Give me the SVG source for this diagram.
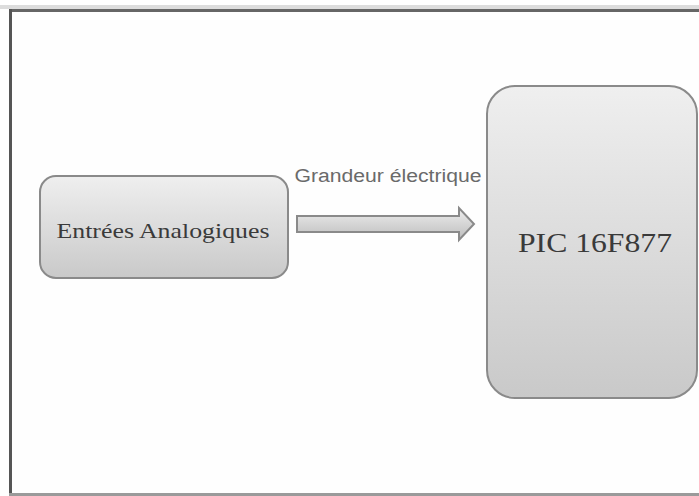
<svg xmlns="http://www.w3.org/2000/svg" width="699" height="496" viewBox="0 0 699 496">
<defs>
<linearGradient id="g" x1="0" y1="0" x2="0" y2="1">
<stop offset="0" stop-color="#efefef"/>
<stop offset="1" stop-color="#c9c9c9"/>
</linearGradient>
<linearGradient id="ga" x1="0" y1="0" x2="0" y2="1">
<stop offset="0" stop-color="#eeeeee"/>
<stop offset="1" stop-color="#bdbdbd"/>
</linearGradient>
</defs>
<style>
.box{fill:url(#g);stroke:#8a8a8a;stroke-width:2}
.lbl{font-family:"Liberation Serif",serif;fill:#3a3a3a}
</style>
<rect x="0" y="0" width="699" height="496" fill="#fefefe"/>
<rect x="0" y="5" width="699" height="4" fill="#dcdcdc"/>
<rect x="9" y="9" width="690" height="3" fill="#666"/>
<rect x="9" y="9" width="3" height="487" fill="#555"/>
<rect x="9" y="493" width="690" height="3" fill="#9a9a9a"/>
<g id="entrees">
<rect class="box" x="40" y="176" width="248" height="102" rx="16"/>
<text class="lbl" x="163" y="238" font-size="22" text-anchor="middle" textLength="213" lengthAdjust="spacingAndGlyphs">Entrées Analogiques</text>
</g>
<g id="pic">
<rect class="box" x="487" y="86" width="210" height="312" rx="28"/>
<text class="lbl" x="595" y="252" font-size="28" text-anchor="middle" textLength="154" lengthAdjust="spacingAndGlyphs">PIC 16F877</text>
</g>
<g id="connectors">
<path d="M297 216 H459 V208 L474 224 L459 240 V232 H297 Z" fill="url(#ga)" stroke="#8a8a8a" stroke-width="2"/>
<text x="388" y="182" font-family="Liberation Sans, sans-serif" font-size="18" fill="#6a6a6a" text-anchor="middle" textLength="187" lengthAdjust="spacingAndGlyphs">Grandeur électrique</text>
</g>
</svg>
